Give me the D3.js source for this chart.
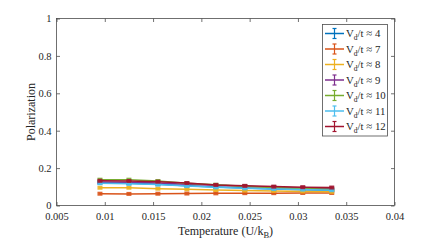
<!DOCTYPE html>
<html><head><meta charset="utf-8">
<script src="https://cdn.jsdelivr.net/npm/d3@7"></script>
<style>body{margin:0;background:#fff}svg{display:block}</style>
</head><body><div id="c"></div>
<script>
const temps = [0.0095,0.0125,0.0155,0.0185,0.0215,0.0245,0.0275,0.0305,0.0335];
const seriesNames = ["4","7","8","9","10","11","12"];
const colors = ["#0072BD","#D95319","#EDB120","#7E2F8E","#77AC30","#4DBEEE","#A2142F"];
const vd4  = [0.122,0.119,0.114,0.106,0.099,0.093,0.088,0.084,0.081];
const vd7  = [0.063,0.062,0.063,0.064,0.065,0.066,0.066,0.067,0.067];
const vd8  = [0.095,0.095,0.090,0.087,0.083,0.080,0.078,0.075,0.073];
const vd9  = [0.126,0.124,0.120,0.114,0.108,0.103,0.098,0.094,0.090];
const vd10 = [0.138,0.138,0.131,0.119,0.111,0.103,0.096,0.091,0.086];
const vd11 = [0.119,0.116,0.112,0.104,0.097,0.092,0.088,0.085,0.082];
const vd12 = [0.132,0.131,0.127,0.120,0.110,0.105,0.101,0.098,0.096];
const errs = [0.004,0.004,0.004,0.004,0.004,0.004,0.004,0.004,0.004];
const allSeries = [vd4,vd7,vd8,vd9,vd10,vd11,vd12];
const xTicks = [0.005,0.01,0.015,0.02,0.025,0.03,0.035,0.04];
const yTicks = [0,0.2,0.4,0.6,0.8,1];

const FONT = "'Liberation Serif', 'Times New Roman', serif";
const W=436,H=242;
const L=56.5,R=394.5,T=18.5,B=205.5;
const svg=d3.select("#c").append("svg").attr("width",W).attr("height",H).style("font-family",FONT);
const x=d3.scaleLinear().domain([0.005,0.04]).range([L,R]);
const y=d3.scaleLinear().domain([0,1]).range([B,T]);
const axCol="#4d4d4d";

svg.append("rect").attr("x",L).attr("y",T).attr("width",R-L).attr("height",B-T)
  .attr("fill","none").attr("stroke",axCol).attr("stroke-width",0.8);

const fmt = d=>String(+d.toFixed(3));
const xb=svg.append("g").attr("transform",`translate(0,${B})`).call(d3.axisBottom(x).tickValues(xTicks).tickSizeInner(-3.5).tickSizeOuter(0).tickPadding(7.5).tickFormat(fmt));
const xt=svg.append("g").attr("transform",`translate(0,${T})`).call(d3.axisTop(x).tickValues(xTicks).tickSizeInner(-3.5).tickSizeOuter(0).tickFormat(""));
const yl=svg.append("g").attr("transform",`translate(${L},0)`).call(d3.axisLeft(y).tickValues(yTicks).tickSizeInner(-3.5).tickSizeOuter(0).tickPadding(5).tickFormat(fmt));
const yr=svg.append("g").attr("transform",`translate(${R},0)`).call(d3.axisRight(y).tickValues(yTicks).tickSizeInner(-3.5).tickSizeOuter(0).tickFormat(""));
[xb,xt,yl,yr].forEach(g=>{g.attr("font-family",null).attr("font-size",null);
  g.select(".domain").remove();g.selectAll("line").attr("stroke",axCol).attr("stroke-width",0.8);
  g.selectAll("text").attr("fill","#262626").style("font-size","10.5px").style("font-family",FONT);});

svg.append("text").attr("x",(L+R)/2).attr("y",235).attr("text-anchor","middle").attr("fill","#262626")
  .style("font-size","12px").html('Temperature (U/k<tspan dy="3" style="font-size:8.5px">B</tspan><tspan dy="-3">)</tspan>');
svg.append("text").attr("transform",`translate(35,${(T+B)/2}) rotate(-90)`).attr("text-anchor","middle").attr("fill","#262626")
  .style("font-size","12px").text("Polarization");

const line=d3.line().x((d,i)=>x(temps[i])).y(d=>y(d));
allSeries.forEach((s,k)=>{
  const g=svg.append("g");
  g.append("path").datum(s).attr("d",line).attr("fill","none").attr("stroke",colors[k]).attr("stroke-width",1.5);
  g.selectAll("line.e").data(s).enter().append("line")
    .attr("x1",(d,i)=>x(temps[i])).attr("x2",(d,i)=>x(temps[i]))
    .attr("y1",(d,i)=>y(d-errs[i])).attr("y2",(d,i)=>y(d+errs[i]))
    .attr("stroke",colors[k]).attr("stroke-width",1.2);
  g.selectAll("rect").data(s).enter().append("rect")
    .attr("x",(d,i)=>x(temps[i])-2.5).attr("y",d=>y(d)-2)
    .attr("width",5).attr("height",4).attr("fill",colors[k]).attr("opacity",0.9);
});

const lx=322.5, ly=24.5, lw=65, lh=111.5;
svg.append("rect").attr("x",lx).attr("y",ly).attr("width",lw).attr("height",lh)
  .attr("fill","#fff").attr("stroke",axCol).attr("stroke-width",0.8);
seriesNames.forEach((n,k)=>{
  const cy=ly+9+k*15.5;
  const g=svg.append("g");
  g.append("line").attr("x1",lx+2.5).attr("x2",lx+21.5).attr("y1",cy).attr("y2",cy).attr("stroke",colors[k]).attr("stroke-width",1.5);
  g.append("line").attr("x1",lx+12).attr("x2",lx+12).attr("y1",cy-5).attr("y2",cy+5).attr("stroke",colors[k]).attr("stroke-width",1.2);
  g.append("line").attr("x1",lx+10).attr("x2",lx+14).attr("y1",cy-5).attr("y2",cy-5).attr("stroke",colors[k]).attr("stroke-width",1.2);
  g.append("line").attr("x1",lx+10).attr("x2",lx+14).attr("y1",cy+5).attr("y2",cy+5).attr("stroke",colors[k]).attr("stroke-width",1.2);
  g.append("text").attr("x",lx+23.5).attr("y",cy+3.5).attr("fill","#262626").style("font-size","10.8px")
    .html(`V<tspan dy="3" style="font-size:7.5px">d</tspan><tspan dy="-3">/t ≈ ${n}</tspan>`);
});
</script></body></html>
